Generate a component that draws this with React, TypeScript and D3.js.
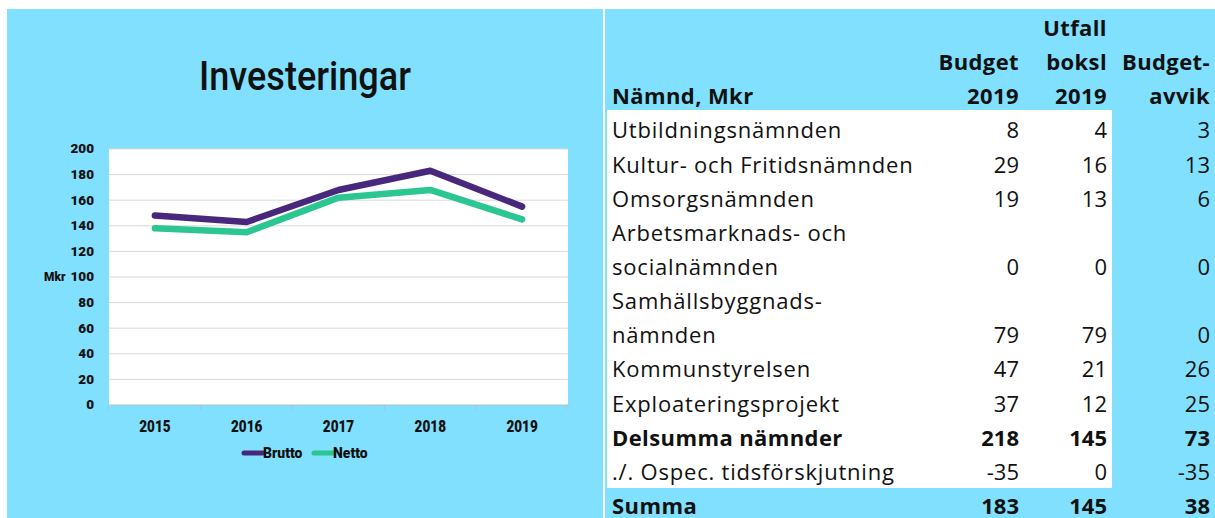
import * as d3 from "d3";

const years = ["2015", "2016", "2017", "2018", "2019"];
const brutto = [148, 143, 168, 183, 155];
const netto = [138, 135, 162, 168, 145];
const yTicks = [0, 20, 40, 60, 80, 100, 120, 140, 160, 180, 200];

const seriesNames = ["Brutto", "Netto"];
const seriesColors = ["#48287c", "#2cc693"];

// table
const headerLines = [
    ["", "", "Utfall", ""],
    ["", "Budget", "boksl", "Budget-"],
    ["Nämnd, Mkr", "2019", "2019", "avvik"],
];
const rowLabels = [
    ["Utbildningsnämnden"],
    ["Kultur- och Fritidsnämnden"],
    ["Omsorgsnämnden"],
    ["Arbetsmarknads- och", "socialnämnden"],
    ["Samhällsbyggnads-", "nämnden"],
    ["Kommunstyrelsen"],
    ["Exploateringsprojekt"],
    ["Delsumma nämnder"],
    ["./. Ospec. tidsförskjutning"],
    ["Summa"],
];
const budget2019 = [8, 29, 19, 0, 79, 47, 37, 218, -35, 183];
const utfall2019 = [4, 16, 13, 0, 79, 21, 12, 145, 0, 145];
const budgetAvvik = [3, 13, 6, 0, 0, 26, 25, 73, -35, 38];
const boldRows = ["Delsumma nämnder", "Summa"];

const CYAN = "#80e0fe";
const chartFont = "Roboto, sans-serif";
const tableFont = "'Open Sans', sans-serif";

// text squeezed or stretched horizontally to imitate the original face
const CondText = ({ x, y, sx, anchor = "start", size, weight = 900, children }: any) => (
    <text transform={`translate(${x},${y}) scale(${sx},1)`} textAnchor={anchor}
        dominantBaseline="central" fontFamily={chartFont} fontSize={size}
        fontWeight={weight} fill="#111">{children}</text>
);

export default function App() {
    const width = 1215;
    const height = 518;

    const x = d3.scaleBand().domain(years).range([109, 568]);
    const y = d3.scaleLinear().domain([0, 200]).range([405, 149]);
    const cx = (d: string) => x(d)! + x.bandwidth() / 2;

    const line = d3.line<number>()
        .x((_, i) => cx(years[i]))
        .y(d => y(d));

    // each text line in the table sits on a fixed grid
    const lineY = d3.scaleLinear().domain([0, 14]).range([27, 505]);
    const colRight = [0, 1019, 1107, 1210];

    let li = 3;
    const rows = rowLabels.map((labels, i) => {
        const start = li;
        li += labels.length;
        return { labels, start, last: li - 1, i };
    });

    return (
        <svg width={width} height={height} style={{ position: "absolute", left: 0, top: 0 }}>
            <rect x={0} y={0} width={width} height={height} fill="#fff" />
            {/* left panel */}
            <rect x={7} y={9} width={596} height={509} fill={CYAN} />
            {/* right panel */}
            <rect x={605} y={9} width={610} height={509} fill={CYAN} />
            <rect x={607} y={110} width={505} height={378} fill="#fff" />

            <CondText x={305} y={76} sx={0.88} anchor="middle" size={41} weight={500}>Investeringar</CondText>

            <rect x={109} y={149} width={459} height={256} fill="#fff" />
            {yTicks.map(t => (
                <g key={t}>
                    <line x1={109} x2={568} y1={y(t)} y2={y(t)}
                        stroke={t === 0 ? "#a9c3cf" : "#d9d9d9"} strokeWidth={1} />
                    <CondText x={94} y={y(t)} sx={1.08} anchor="end" size={12.5}>{t}</CondText>
                </g>
            ))}
            <CondText x={44} y={y(100)} sx={0.95} size={12.5}>Mkr</CondText>
            {[...years.map(d => x(d)!), 568].map((px, i) => (
                <line key={i} x1={px} x2={px} y1={405} y2={410} stroke="#a9c3cf" />
            ))}
            {years.map(d => (
                <CondText key={d} x={cx(d)} y={427} sx={0.82} anchor="middle" size={16.5}>{d}</CondText>
            ))}

            {[brutto, netto].map((s, i) => (
                <path key={i} d={line(s)!} fill="none" stroke={seriesColors[i]}
                    strokeWidth={6.5} strokeLinecap="round" strokeLinejoin="round" />
            ))}

            {/* legend */}
            {seriesNames.map((n, i) => {
                const lx = 244 + i * 70;
                return (
                    <g key={n}>
                        <line x1={lx} x2={lx + 19} y1={453} y2={453} stroke={seriesColors[i]}
                            strokeWidth={5} strokeLinecap="round" />
                        <CondText x={lx + 19} y={453} sx={0.9} size={15.5}>{n}</CondText>
                    </g>
                );
            })}

            {/* divider between the panels */}
            <line x1={604} x2={604} y1={9} y2={518} stroke="#fff" strokeWidth={2} />

            {/* table header */}
            {headerLines.map((cells, r) => cells.map((c, k) => c && (
                <text key={`h${r}-${k}`} x={k === 0 ? 612 : colRight[k]} y={lineY(r)}
                    textAnchor={k === 0 ? "start" : "end"} dominantBaseline="central"
                    fontFamily={tableFont} fontWeight="bold" fontSize={22} letterSpacing={0.4}
                    fill="#111">{c}</text>
            )))}

            {/* table body */}
            {rows.map(row => {
                const bold = boldRows.includes(row.labels[0]);
                const vals = [budget2019[row.i], utfall2019[row.i], budgetAvvik[row.i]];
                return (
                    <g key={row.i} fontFamily={tableFont} fontSize={22} fill="#111"
                        fontWeight={bold ? "bold" : "normal"}>
                        {row.labels.map((l, j) => (
                            <text key={j} x={612} y={lineY(row.start + j)} dominantBaseline="central"
                                letterSpacing={bold ? 0.4 : 0.8}>{l}</text>
                        ))}
                        {vals.map((v, k) => (
                            <text key={k} x={colRight[k + 1]} y={lineY(row.last)} textAnchor="end"
                                dominantBaseline="central">{v}</text>
                        ))}
                    </g>
                );
            })}
        </svg>
    );
}
